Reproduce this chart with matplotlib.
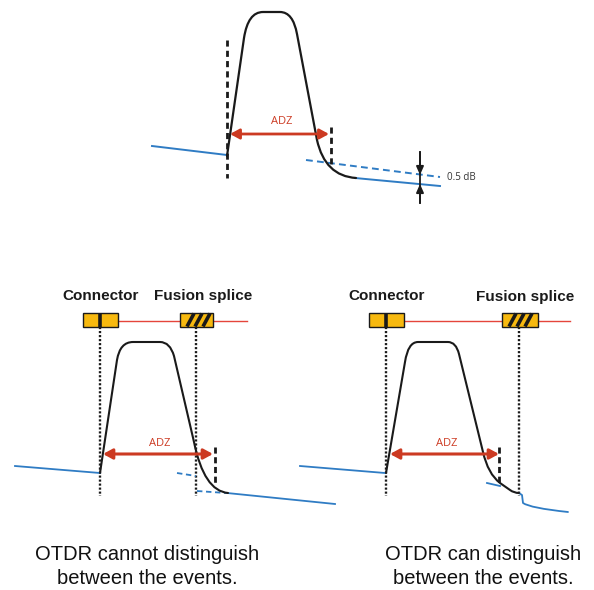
import matplotlib
matplotlib.use('Agg')
import matplotlib.pyplot as plt
from matplotlib.path import Path
from matplotlib.patches import PathPatch, Rectangle
import numpy as np

# ---------------- data (diagram geometry, pixel units, y downwards) ----------------
# top panel: trace with attenuation dead zone
top_pulse_x = [227, 244, 248, 263, 280, 293, 297, 317, 325, 356]
top_pulse_y = [156, 38, 12, 12, 12, 12, 34, 140, 176, 178]
top_fiber_left_x = [152, 227]
top_fiber_left_y = [146, 155]
top_fiber_right_x = [355, 440]
top_fiber_right_y = [178, 186]
top_extrap_x = [306, 440]
top_extrap_y = [160, 177]
top_dash_x = [227, 331]
top_dash_y0 = [40, 127]
top_dash_y1 = [178, 164]
top_adz = (230, 329, 134)
step_x = 420
step_top, step_mid1, step_mid2, step_bot = 152, 175, 184, 203

# bottom left panel: events too close
bl_pulse_x = [100, 117, 120, 133, 160, 170, 174, 194, 204, 228]
bl_pulse_y = [473, 360, 342, 342, 342, 342, 356, 442, 491, 493]
bl_fiber_left_x = [15, 100]
bl_fiber_left_y = [466, 473]
bl_fiber_right_x = [227, 335]
bl_fiber_right_y = [493, 504]
bl_extrap1_x = [177, 196]
bl_extrap1_y = [473, 476]
bl_extrap2_x = [197, 226]
bl_extrap2_y = [491, 493]
bl_connector_x = 100
bl_splice_x = 196
bl_dead_x = 215
bl_adz = (103, 213, 454)

# bottom right panel: events resolved
br_pulse_x = [386, 405, 408, 418, 448, 456, 459, 483, 488, 500, 510, 514, 519]
br_pulse_y = [473, 362, 342, 342, 342, 342, 354, 452, 474, 483, 490, 493, 493]
br_tail_x = [519, 522, 523, 530, 568]
br_tail_y = [493, 495, 503, 508, 512]
br_fiber_left_x = [300, 385]
br_fiber_left_y = [466, 473]
br_seg_x = [487, 500]
br_seg_y = [483, 486]
br_connector_x = 386
br_splice_x = 519
br_dead_x = 499
br_adz = (390, 499, 454)

labels_event = ['Connector', 'Fusion splice']
caption_left = ['OTDR cannot distinguish', 'between the events.']
caption_right = ['OTDR can distinguish', 'between the events.']

# ---------------- style ----------------
BLUE = '#2f7cc4'
RED = '#cc3a22'
RED_LINE = '#e5453b'
ORANGE = '#f7b90f'
BLACK = '#1a1a1a'

fig = plt.figure(figsize=(5.94, 5.90), dpi=100)
ax = fig.add_axes([0, 0, 1, 1])
ax.set_xlim(0, 594)
ax.set_ylim(590, 0)
ax.axis('off')

CODES = {'M': Path.MOVETO, 'L': Path.LINETO, 'Q': Path.CURVE3}


def trace(xs, ys, spec, color, lw, z=3):
    path = Path(np.column_stack([xs, ys]), [CODES[c] for c in spec])
    ax.add_patch(PathPatch(path, fill=False, edgecolor=color, lw=lw,
                           capstyle='round', joinstyle='round', zorder=z))


def adz(x0, x1, y, label, ty, lw):
    ax.annotate('', xy=(x1, y), xytext=(x0, y),
                arrowprops=dict(arrowstyle='<|-|>,head_length=0.55,head_width=0.3',
                                color=RED, lw=lw, mutation_scale=10,
                                shrinkA=0, shrinkB=0), zorder=4)
    ax.text((x0 + x1) / 2 + 2, ty, label, color=RED, fontsize=8,
            family='Open Sans', ha='center', va='center')


def connector(xc, half=17.5):
    ax.add_patch(Rectangle((xc - half, 313), 2 * half, 14, fc=ORANGE,
                           ec=BLACK, lw=1, zorder=5))
    ax.plot([xc, xc], [313.5, 326.5], color=BLACK, lw=2.6, zorder=6,
            solid_capstyle='butt')


def splice(x0, x1):
    ax.add_patch(Rectangle((x0, 313), x1 - x0, 14, fc=ORANGE, ec=BLACK,
                           lw=1, zorder=5))
    for off in (7, 15, 23):
        ax.plot([x0 + off, x0 + off + 7], [326.5, 313.5], color=BLACK,
                lw=2.6, zorder=6, solid_capstyle='butt')


# ---------------- top panel ----------------
ax.plot(top_fiber_left_x, top_fiber_left_y, color=BLUE, lw=1.4)
ax.plot(top_fiber_right_x, top_fiber_right_y, color=BLUE, lw=1.4)
ax.plot(top_extrap_x, top_extrap_y, color=BLUE, lw=1.4, ls=(0, (3.5, 2.2)))
trace(top_pulse_x, top_pulse_y, 'MLQQLQQLQQ', BLACK, 1.6)
for x, y0, y1 in zip(top_dash_x, top_dash_y0, top_dash_y1):
    ax.plot([x, x], [y0, y1], color=BLACK, lw=2.0, ls=(0, (2.2, 1.5)))
adz(top_adz[0], top_adz[1], top_adz[2], 'ADZ', 121, 2.0)

ax.plot([step_x, step_x], [step_top, step_bot], color=BLACK, lw=1.3)
ax.annotate('', xy=(step_x, step_mid1), xytext=(step_x, step_top),
            arrowprops=dict(arrowstyle='-|>,head_length=0.5,head_width=0.22',
                            color=BLACK, lw=1.3, mutation_scale=10,
                            shrinkA=0, shrinkB=0))
ax.annotate('', xy=(step_x, step_mid2), xytext=(step_x, step_bot),
            arrowprops=dict(arrowstyle='-|>,head_length=0.5,head_width=0.22',
                            color=BLACK, lw=1.3, mutation_scale=10,
                            shrinkA=0, shrinkB=0))
ax.text(447, 178, '0.5 dB', fontsize=7, color='#333333', family='Open Sans',
        ha='left', va='center')

# ---------------- bottom panels ----------------
panels = [
    dict(cx=bl_connector_x, sx=bl_splice_x, dx=bl_dead_x, adz=bl_adz,
         line_end=247, sbox=(180, 213), lab=(101, 203), lab_y=(296, 296)),
    dict(cx=br_connector_x, sx=br_splice_x, dx=br_dead_x, adz=br_adz,
         line_end=570, sbox=(502, 538), lab=(387, 525), lab_y=(296, 297)),
]
for p in panels:
    ax.plot([p['cx'], p['line_end']], [321, 321], color=RED_LINE, lw=1.0, zorder=4)
    connector(p['cx'])
    splice(*p['sbox'])
    for name, x, y in zip(labels_event, p['lab'], p['lab_y']):
        ax.text(x, y, name, fontsize=11, fontweight='bold', family='Liberation Sans',
                ha='center', va='center', color=BLACK)
    for x in (p['cx'], p['sx']):
        ax.plot([x, x], [327, 496], color=BLACK, lw=1.7, ls=(0, (0.9, 0.8)), zorder=2)
    ax.plot([p['dx'], p['dx']], [447, 483], color=BLACK, lw=2.0,
            ls=(0, (2.2, 1.3)), zorder=4)
    adz(p['adz'][0], p['adz'][1], p['adz'][2], 'ADZ', 443, 2.2)

# left
ax.plot(bl_fiber_left_x, bl_fiber_left_y, color=BLUE, lw=1.3)
ax.plot(bl_fiber_right_x, bl_fiber_right_y, color=BLUE, lw=1.3)
ax.plot(bl_extrap1_x, bl_extrap1_y, color=BLUE, lw=1.3, ls=(0, (3, 2)))
ax.plot(bl_extrap2_x, bl_extrap2_y, color=BLUE, lw=1.3, ls=(0, (3, 2)))
trace(bl_pulse_x, bl_pulse_y, 'MLQQLQQLQQ', BLACK, 1.5)

# right
ax.plot(br_fiber_left_x, br_fiber_left_y, color=BLUE, lw=1.3)
ax.plot(br_seg_x, br_seg_y, color=BLUE, lw=1.3)
trace(br_tail_x, br_tail_y, 'MLLQQ', BLUE, 1.3)
trace(br_pulse_x, br_pulse_y, 'MLQQLQQLQQLQQ', BLACK, 1.5)

# captions
for lines, xc in ((caption_left, 147), (caption_right, 483)):
    for line, yb in zip(lines, (560, 584)):
        ax.text(xc, yb, line, fontsize=14.5, family='Liberation Sans',
                ha='center', va='baseline', color='#111111')

fig.savefig('out.png', dpi=100)
